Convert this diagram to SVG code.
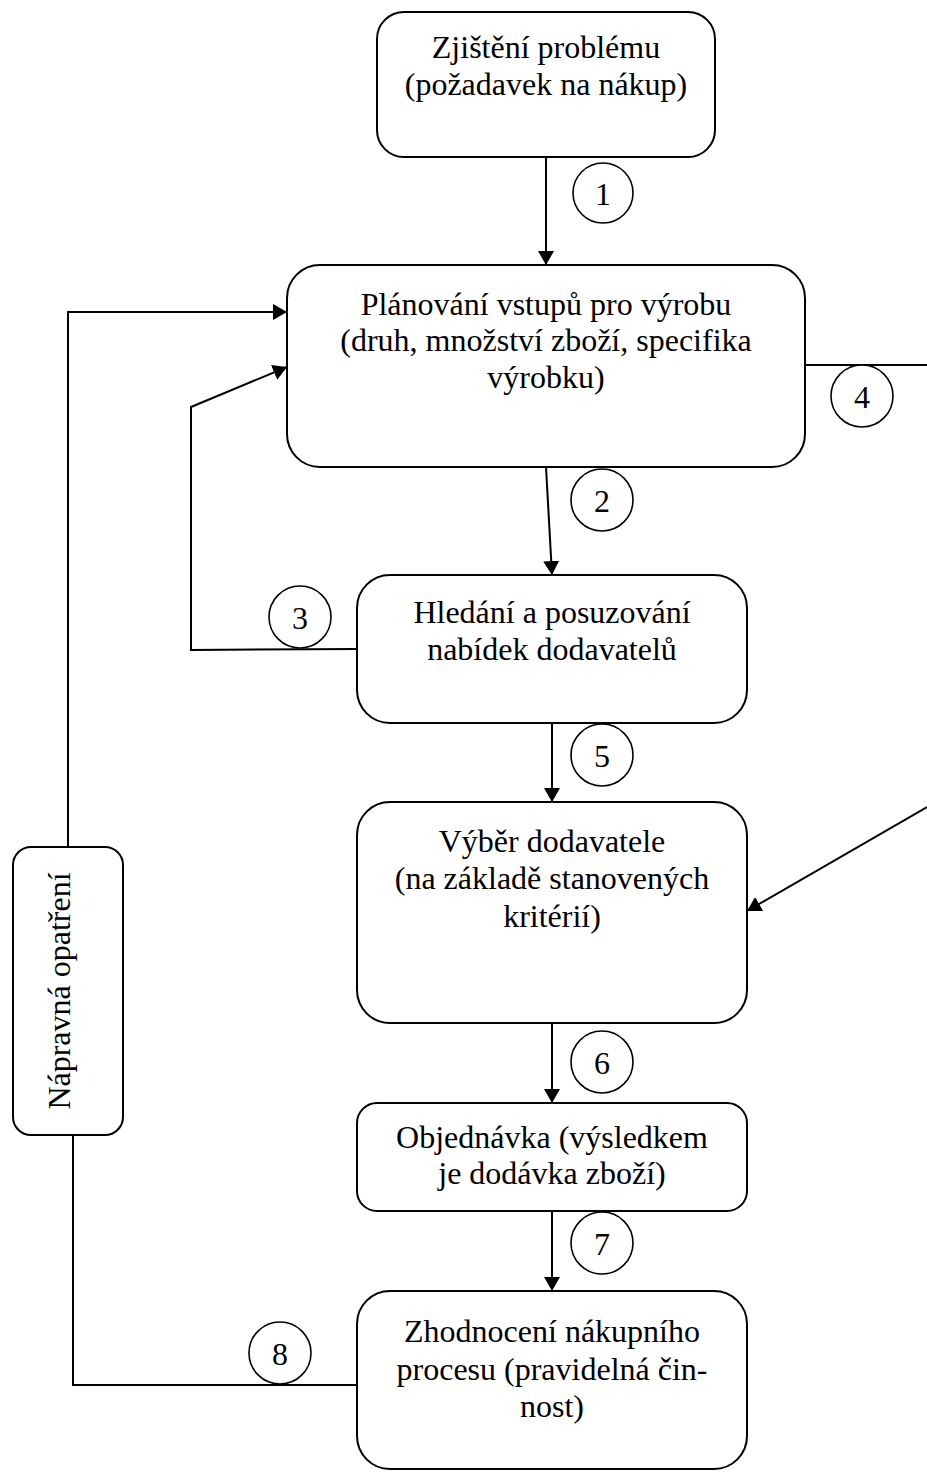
<svg xmlns="http://www.w3.org/2000/svg" width="927" height="1472" viewBox="0 0 927 1472">
  <style>
    .box { fill: #ffffff; stroke: #000000; stroke-width: 2; }
    .lbl { font-family: "Liberation Serif", "Times New Roman", serif; font-size: 32px; fill: #000000; text-anchor: middle; }
    .conn { fill: none; stroke: #000000; stroke-width: 2; }
    .arrow { marker-end: url(#head); }
    .num { fill: #ffffff; stroke: #000000; stroke-width: 1.6; }
  </style>
  <defs>
    <marker id="head" viewBox="0 0 14 16" refX="14" refY="8" markerWidth="14" markerHeight="16" markerUnits="userSpaceOnUse" orient="auto">
      <path d="M0,0 L14,8 L0,16 Z" fill="#000000"/>
    </marker>
  </defs>

  <rect width="927" height="1472" fill="#ffffff"/>

  <!-- connectors -->
  <g id="connectors">
    <line class="conn arrow" x1="546" y1="157" x2="546" y2="265"/>
    <line class="conn arrow" x1="546" y1="467" x2="552" y2="575"/>
    <polyline class="conn arrow" points="357,649 191,650 191,407 287,367"/>
    <polyline class="conn arrow" points="68,847 68,312 287,312"/>
    <polyline class="conn" points="73,1135 73,1385 357,1385"/>
    <line class="conn" x1="805" y1="365" x2="927" y2="365"/>
    <line class="conn arrow" x1="927" y1="807" x2="747" y2="911"/>
    <line class="conn arrow" x1="552" y1="723" x2="552" y2="802"/>
    <line class="conn arrow" x1="552" y1="1023" x2="552" y2="1103"/>
    <line class="conn arrow" x1="552" y1="1211" x2="552" y2="1291"/>
  </g>

  <!-- numbered step markers -->
  <g id="step-1"><circle class="num" cx="603" cy="193" r="30"/><text class="lbl" x="603" y="205">1</text></g>
  <g id="step-2"><circle class="num" cx="602" cy="500" r="31"/><text class="lbl" x="602" y="512">2</text></g>
  <g id="step-3"><circle class="num" cx="300" cy="617" r="31"/><text class="lbl" x="300" y="629">3</text></g>
  <g id="step-4"><circle class="num" cx="862" cy="396" r="31"/><text class="lbl" x="862" y="408">4</text></g>
  <g id="step-5"><circle class="num" cx="602" cy="755" r="31"/><text class="lbl" x="602" y="767">5</text></g>
  <g id="step-6"><circle class="num" cx="602" cy="1062" r="31"/><text class="lbl" x="602" y="1074">6</text></g>
  <g id="step-7"><circle class="num" cx="602" cy="1243" r="31"/><text class="lbl" x="602" y="1255">7</text></g>
  <g id="step-8"><circle class="num" cx="280" cy="1353" r="31"/><text class="lbl" x="280" y="1365">8</text></g>

  <!-- process boxes -->
  <g id="node-problem">
    <rect class="box" x="377" y="12" width="338" height="145" rx="27" ry="27"/>
    <text class="lbl" x="546" y="58">Zjištění problému</text>
    <text class="lbl" x="546" y="95">(požadavek na nákup)</text>
  </g>

  <g id="node-planning">
    <rect class="box" x="287" y="265" width="518" height="202" rx="33" ry="33"/>
    <text class="lbl" x="546" y="315">Plánování vstupů pro výrobu</text>
    <text class="lbl" x="546" y="351">(druh, množství zboží, specifika</text>
    <text class="lbl" x="546" y="388">výrobku)</text>
  </g>

  <g id="node-search">
    <rect class="box" x="357" y="575" width="390" height="148" rx="33" ry="33"/>
    <text class="lbl" x="552" y="623">Hledání a posuzování</text>
    <text class="lbl" x="552" y="660">nabídek dodavatelů</text>
  </g>

  <g id="node-selection">
    <rect class="box" x="357" y="802" width="390" height="221" rx="33" ry="33"/>
    <text class="lbl" x="552" y="852">Výběr dodavatele</text>
    <text class="lbl" x="552" y="889">(na základě stanovených</text>
    <text class="lbl" x="552" y="927">kritérií)</text>
  </g>

  <g id="node-order">
    <rect class="box" x="357" y="1103" width="390" height="108" rx="20" ry="20"/>
    <text class="lbl" x="552" y="1148">Objednávka (výsledkem</text>
    <text class="lbl" x="552" y="1184">je dodávka zboží)</text>
  </g>

  <g id="node-evaluation">
    <rect class="box" x="357" y="1291" width="390" height="178" rx="33" ry="33"/>
    <text class="lbl" x="552" y="1342">Zhodnocení nákupního</text>
    <text class="lbl" x="552" y="1380">procesu (pravidelná čin-</text>
    <text class="lbl" x="552" y="1417">nost)</text>
  </g>

  <g id="node-corrective">
    <rect class="box" x="13" y="847" width="110" height="288" rx="18" ry="18"/>
    <text class="lbl" transform="translate(70,991) rotate(-90)" x="0" y="0">Nápravná opatření</text>
  </g>
</svg>
